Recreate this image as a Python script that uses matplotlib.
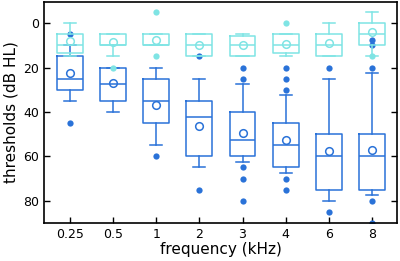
import matplotlib
matplotlib.use("Agg")
import matplotlib.pyplot as plt

freqs = ["0.25", "0.5", "1", "2", "3", "4", "6", "8"]

# light series (cyan)
light_q1 = [5, 5, 5, 5, 6, 5, 5, 0]
light_med = [10, 10, 10, 10, 10, 10, 10, 5]
light_q3 = [13.5, 10, 10, 15, 15, 13.5, 15, 10]
light_lo = [0, 5, 5, 5, 5, 5, 0, -5]
light_hi = [15, 15, 10, 15, 15, 15, 15, 15]
light_mean = [8.2, 8.5, 7.5, 10, 10, 9.3, 9, 4]
light_fliers = [[], [20], [-5, 15], [], [], [0], [], [15]]

# dark series (blue)
dark_q1 = [15, 20, 25, 35, 40, 45, 50, 50]
dark_med = [25, 27.5, 35, 42.5, 52.5, 55, 60, 60]
dark_q3 = [30, 35, 45, 60, 60, 65, 75, 75]
dark_lo = [10, 20, 20, 25, 27.5, 32.5, 25, 22.5]
dark_hi = [35, 40, 55, 65, 62.5, 67.5, 80, 77.5]
dark_mean = [22.5, 27, 36.7, 46.5, 49.3, 52.5, 57.6, 57]
dark_fliers = [[5, 45], [], [60], [15, 75], [20, 25, 65, 70, 80],
               [20, 25, 30, 70, 75], [20, 85], [7.5, 10, 20, 80, 90]]

light_col = "#7fe4e4"
dark_col = "#2a72d8"


def make_stats(q1, med, q3, lo, hi, mean, fl):
    out = []
    for i in range(len(q1)):
        out.append(dict(q1=q1[i], med=med[i], q3=q3[i], whislo=lo[i],
                        whishi=hi[i], mean=mean[i], fliers=fl[i]))
    return out


def draw(ax, stats, col, z):
    lw = 1.1
    ax.bxp(stats, positions=range(1, len(stats) + 1), widths=0.6,
           capwidths=0.28, showmeans=True, showfliers=True,
           boxprops=dict(color=col, lw=lw),
           medianprops=dict(color=col, lw=lw),
           whiskerprops=dict(color=col, lw=lw),
           capprops=dict(color=col, lw=lw),
           meanprops=dict(marker="o", markerfacecolor="none",
                          markeredgecolor=col, markersize=5.5, mew=1.1),
           flierprops=dict(marker="o", markerfacecolor=col,
                           markeredgecolor="none", markersize=4.5),
           zorder=z)


fig = plt.figure(figsize=(4.0, 2.61), dpi=100)
ax = fig.add_axes([0.11, 0.146, 0.8825, 0.846])

draw(ax, make_stats(dark_q1, dark_med, dark_q3, dark_lo, dark_hi,
                    dark_mean, dark_fliers), dark_col, 2)
draw(ax, make_stats(light_q1, light_med, light_q3, light_lo, light_hi,
                    light_mean, light_fliers), light_col, 3)

ax.set_xlim(0.4, 8.58)
ax.set_ylim(90, -9.5)
ax.set_xticks(range(1, len(freqs) + 1))
ax.set_xticklabels(freqs)
ax.set_yticks([0, 20, 40, 60, 80])
ax.tick_params(direction="in", length=4, width=1, labelsize=9,
               left=True, right=True, bottom=True, top=False)
for s in ax.spines.values():
    s.set_linewidth(1.2)
ax.set_xlabel("frequency (kHz)", fontsize=11, labelpad=1)
ax.set_ylabel("thresholds (dB HL)", fontsize=11, labelpad=3)

fig.savefig("out.png", dpi=100)
